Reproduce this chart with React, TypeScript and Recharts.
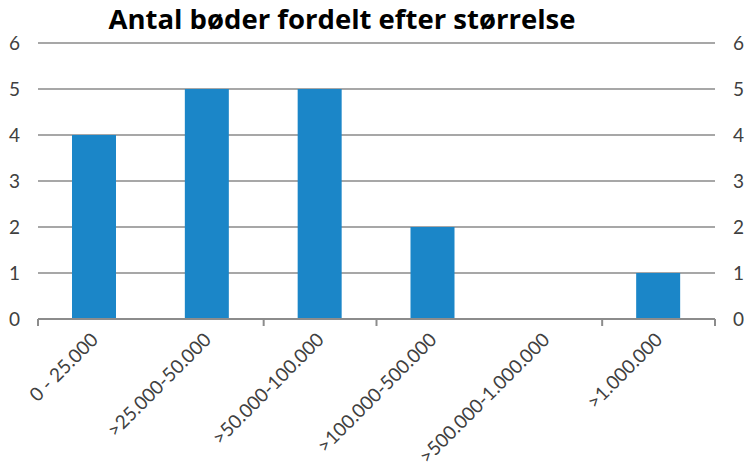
import { ComposedChart, Bar, Line, XAxis, YAxis, CartesianGrid } from "recharts";

const categories = [
    "0 - 25.000",
    ">25.000-50.000",
    ">50.000-100.000",
    ">100.000-500.000",
    ">500.000-1.000.000",
    ">1.000.000",
];
const counts = [4, 5, 5, 2, 0, 1];
const yTicks = [0, 1, 2, 3, 4, 5, 6];

const title = "Antal bøder fordelt efter størrelse";

const colors = {
    bar: "#1b86c8",
    grid: "#8a8a8a",
    axis: "#8c8c8c",
    text: "#404040",
};

const font = "Lato, 'Open Sans', sans-serif";
const titleFont = "'Open Sans', 'Liberation Sans', sans-serif";

const data = categories.map((name, i) => ({ name, value: counts[i] }));

// the boundary axis spans the row indexes 0..n-1, so category edges sit at k*(n-1)/n
const n = categories.length;
const edgeTicks = Array.from({ length: n + 1 }, (_, k) => (k * (n - 1)) / n);

function CategoryTick(props: any) {
    const { x, y, payload } = props;
    const tx = x + 5;
    const ty = y + 6;
    return (
        <text
            x={tx}
            y={ty}
            transform={`rotate(-45, ${tx}, ${ty})`}
            textAnchor="end"
            fill={colors.text}
            fontSize={19}
            fontFamily={font}
        >
            {payload.value}
        </text>
    );
}

function ValueTick(props: any) {
    const { x, y, payload, textAnchor } = props;
    return (
        <text x={x} y={y} dy={7} textAnchor={textAnchor} fill={colors.text} fontSize={19} fontFamily={font}>
            {payload.value}
        </text>
    );
}

// no labels on the boundary axis, only the tick marks
function EmptyTick() {
    return <g />;
}

export default function App() {
    return (
        <div style={{ position: "absolute", left: 0, top: 0, width: 744, height: 470, background: "#fff", overflow: "hidden" }}>
            <div
                style={{
                    position: "absolute",
                    left: 0,
                    width: 684,
                    top: 0,
                    textAlign: "center",
                    fontFamily: titleFont,
                    fontWeight: 700,
                    fontSize: 27.5,
                    color: "#000",
                }}
            >
                {title}
            </div>
            <ComposedChart width={744} height={470} data={data} margin={{ top: 43, right: 0, left: 0, bottom: 0 }}>
                <CartesianGrid vertical={false} stroke={colors.grid} strokeWidth={1.3} xAxisId="cat" yAxisId="left" />
                <XAxis
                    xAxisId="aedge"
                    type="number"
                    domain={[0, n - 1]}
                    allowDataOverflow
                    ticks={edgeTicks}
                    tick={<EmptyTick />}
                    tickSize={7}
                    height={8}
                    axisLine={{ stroke: colors.axis, strokeWidth: 2 }}
                    tickLine={{ stroke: colors.axis, strokeWidth: 2 }}
                />
                <XAxis
                    xAxisId="cat"
                    dataKey="name"
                    axisLine={false}
                    tickLine={false}
                    interval={0}
                    height={143}
                    tick={<CategoryTick />}
                />
                <YAxis
                    yAxisId="left"
                    orientation="left"
                    width={38}
                    domain={[0, 6]}
                    ticks={yTicks}
                    axisLine={false}
                    tickLine={false}
                    tickMargin={12}
                    tick={<ValueTick />}
                />
                <YAxis
                    yAxisId="right"
                    orientation="right"
                    width={29}
                    domain={[0, 6]}
                    ticks={yTicks}
                    axisLine={false}
                    tickLine={false}
                    tickMargin={12}
                    tick={<ValueTick />}
                />
                <Bar xAxisId="cat" yAxisId="left" dataKey="value" fill={colors.bar} barSize={44} isAnimationActive={false} />
                <Line xAxisId="cat" yAxisId="right" dataKey="value" stroke="none" dot={false} activeDot={false} legendType="none" isAnimationActive={false} />
            </ComposedChart>
        </div>
    );
}
